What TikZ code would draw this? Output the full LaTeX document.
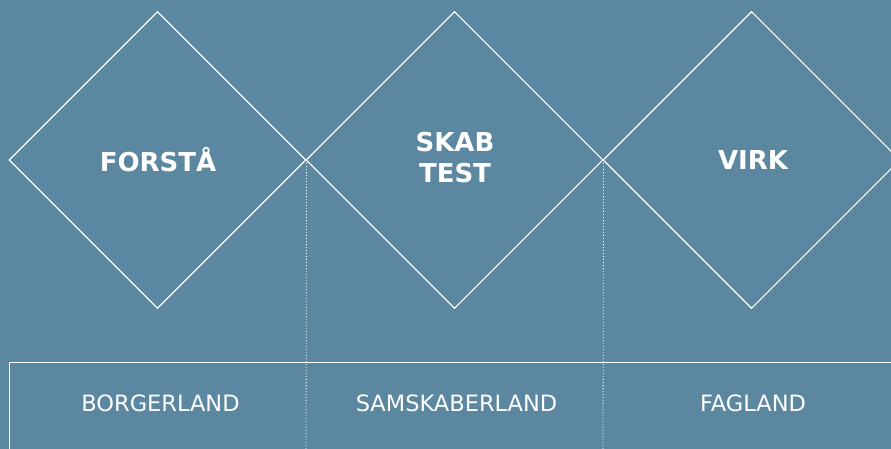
\documentclass[tikz,border=0pt]{standalone}
\usepackage{fontspec}
\setmainfont{DejaVu Sans}
\usetikzlibrary{shapes.geometric}
\definecolor{bgblue}{RGB}{91,135,160}
\tikzset{
  dia/.style={draw=white, line width=1.1pt, shape=diamond, aspect=1, inner sep=0pt,
    minimum width=297pt, minimum height=297pt},
  head/.style={text=white, font=\fontsize{26}{31}\selectfont\bfseries, inner sep=0pt, align=center},
  lbl/.style={text=white, font=\fontsize{22.5}{25}\selectfont, inner sep=0pt},
  sep/.style={draw=white, line width=0.8pt, dash pattern=on 1pt off 2pt},
  frame/.style={draw=white, line width=1.1pt}
}
\begin{document}
\begin{tikzpicture}[x=1pt,y=-1pt]
\fill[bgblue] (0,0) rectangle (891,449);
\useasboundingbox (0,0) rectangle (891,449);
\clip (0,0) rectangle (891,449);
\node[dia] (d1) at (157.5,160) {};
\node[dia] (d2) at (454.5,160) {};
\node[dia] (d3) at (751.5,160) {};
\node[head] (t1) at (158,160) {FORSTÅ};
\node[head] (t2) at (455,158) {SKAB\\TEST};
\node[head] (t3) at (753,160) {VIRK};
\coordinate (b1) at (306,452);
\coordinate (b2) at (603,452);
\draw[sep] (d1.east) -- (b1);
\draw[sep] (d2.east) -- (b2);
\coordinate (bl) at (9.5,362.5);
\coordinate (br) at (900,470);
\draw[frame] (bl) rectangle (br);
\node[lbl] (l1) at (160.5,403) {BORGERLAND};
\node[lbl] (l2) at (456.5,403) {SAMSKABERLAND};
\node[lbl] (l3) at (753,403) {FAGLAND};
\end{tikzpicture}
\end{document}
